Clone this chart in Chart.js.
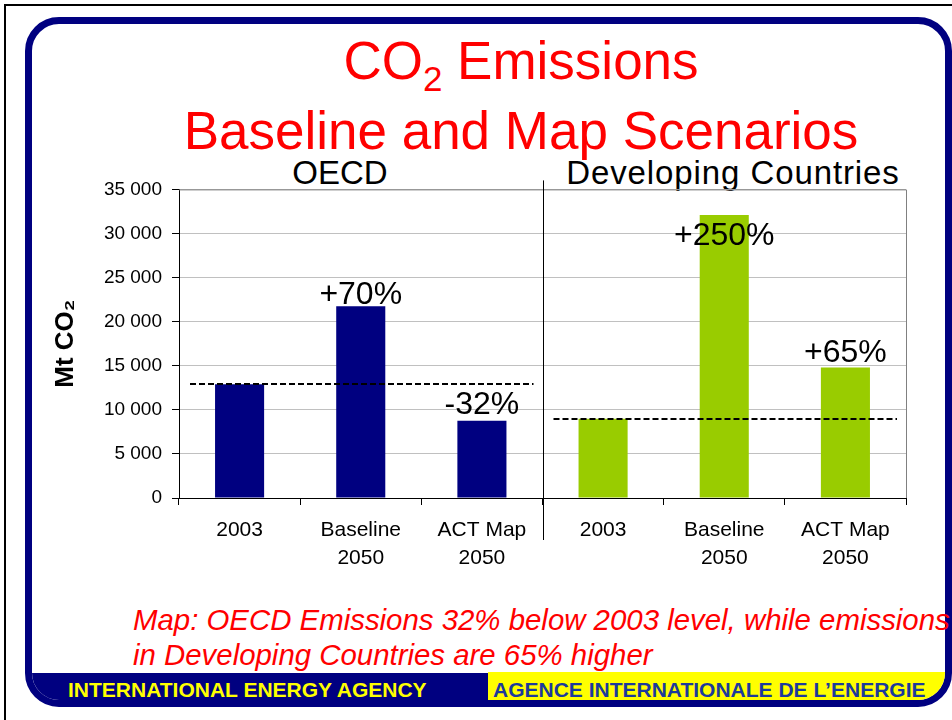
<!DOCTYPE html>
<html>
<head>
<meta charset="utf-8">
<script src="https://cdn.jsdelivr.net/npm/chart.js@4.4.0/dist/chart.umd.min.js"></script>
<style>
  body { margin: 0; width: 952px; height: 720px; overflow: hidden; background: #fff; position: relative;
         font-family: 'Liberation Sans', Arial, sans-serif; }
  #outer { position: absolute; left: 4px; top: 4px; width: 1000px; height: 800px; border: 2px solid #000; }
  #frame { position: absolute; left: 25px; top: 17px; width: 927px; height: 690px; box-sizing: border-box;
           border: 7px solid #000080; border-radius: 34px; overflow: hidden; background: #fff; }
  #bandL { position: absolute; left: 0; bottom: 0; width: 456px; height: 27px; background: #000080; }
  #bandR { position: absolute; left: 456px; right: 0; bottom: 0; height: 28px; background: #ffff00; }
  .txt { position: absolute; white-space: nowrap; line-height: 1; }
  #title { left: 0; width: 1042px; top: 29px; text-align: center; color: #ff0000; font-size: 53px; line-height: 64px; }
  #title .sub { font-size: 35px; position: relative; top: 12px; }
  .sec { font-size: 33px; color: #000; top: 156px; width: 600px; text-align: center; }
  .note { left: 133px; font-size: 29.4px; font-style: italic; color: #ff0000; }
  .foot { font-size: 21px; font-weight: bold; top: 679px; }
  #box { position: absolute; left: 40px; top: 168px; width: 880px; height: 412px; }
</style>
</head>
<body>
<div id="outer"></div>
<div id="frame"><div id="bandL"></div><div id="bandR"></div></div>
<div class="txt" id="title">CO<span class="sub">2</span> Emissions<br>Baseline and Map Scenarios</div>
<div class="txt sec" id="s1" style="left:40px"></div>
<div class="txt sec" id="s2" style="left:433px;letter-spacing:0.9px"></div>
<div id="box"><canvas id="chart"></canvas></div>
<div class="txt note" style="top:605px">Map: OECD Emissions 32% below 2003 level, while emissions</div>
<div class="txt note" style="top:640px">in Developing Countries are 65% higher</div>
<div class="txt foot" style="left:68px;color:#ffff00">INTERNATIONAL ENERGY AGENCY</div>
<div class="txt foot" style="left:493px;color:#1c3a9c">AGENCE INTERNATIONALE DE L’ENERGIE</div>
<script>
// data (Mt CO2)
const groups = ['OECD', 'Developing Countries'];
const scenarios = ['2003', ['Baseline', '2050'], ['ACT Map', '2050']];
const oecdValues = [12900, 21750, 8770];
const devValues = [9000, 32100, 14800];
const pctLabels = ['', '+70%', '-32%', '', '+250%', '+65%'];
const yTicks = [0, 5000, 10000, 15000, 20000, 25000, 30000, 35000];

const groupColors = ['#000080', '#99cc00'];
const FONT = "'Liberation Sans', Arial, sans-serif";

const labels = scenarios.concat(scenarios);
const values = oecdValues.concat(devValues);
const colors = values.map((v, i) => groupColors[i < 3 ? 0 : 1]);

document.getElementById('s1').textContent = groups[0];
document.getElementById('s2').textContent = groups[1];

// pixel lift of each % label above its bar top
const labelLift = [0, 2, 7, 0, -30, 6];

const extras = {
  id: 'extras',
  afterDatasetsDraw(chart) {
    const { ctx, chartArea: a, scales: { x, y } } = chart;
    const half = (x.getPixelForValue(1) - x.getPixelForValue(0)) / 2;
    ctx.save();
    // plot border top / right
    ctx.strokeStyle = '#808080';
    ctx.lineWidth = 1;
    ctx.beginPath();
    ctx.moveTo(a.left, a.top + 0.5); ctx.lineTo(a.right + 0.5, a.top + 0.5); ctx.lineTo(a.right + 0.5, a.bottom);
    ctx.stroke();
    // separator between the two groups
    const sx = Math.round((x.getPixelForValue(2) + x.getPixelForValue(3)) / 2) + 0.5;
    ctx.strokeStyle = '#000';
    ctx.beginPath(); ctx.moveTo(sx, a.top - 9); ctx.lineTo(sx, a.bottom + 42); ctx.stroke();
    // dashed 2003 reference lines
    ctx.lineWidth = 2;
    ctx.setLineDash([6, 3]);
    [oecdValues, devValues].forEach((vals, g) => {
      const yy = Math.round(y.getPixelForValue(vals[0]));
      const x0 = x.getPixelForValue(g * 3) - half + 11;
      const x1 = x.getPixelForValue(g * 3 + 2) + half - 9;
      ctx.beginPath(); ctx.moveTo(x0, yy); ctx.lineTo(x1, yy); ctx.stroke();
    });
    ctx.setLineDash([]);
    // % labels
    ctx.fillStyle = '#000';
    ctx.font = '32px ' + FONT;
    ctx.textAlign = 'center';
    ctx.textBaseline = 'alphabetic';
    const meta = chart.getDatasetMeta(0);
    pctLabels.forEach((t, i) => {
      if (!t) return;
      const bar = meta.data[i];
      ctx.fillText(t, bar.x, bar.y - labelLift[i]);
    });
    ctx.restore();
  }
};

new Chart(document.getElementById('chart'), {
  type: 'bar',
  data: {
    labels: labels,
    datasets: [{ data: values, backgroundColor: colors, categoryPercentage: 1, barPercentage: 0.405 }]
  },
  options: {
    responsive: true,
    maintainAspectRatio: false,
    animation: false,
    layout: { padding: { left: 0, right: 14, top: 0, bottom: 0 } },
    plugins: { legend: { display: false }, tooltip: { enabled: false } },
    scales: {
      x: {
        afterFit(s) { s.height = 82; },
        grid: { offset: true, drawOnChartArea: false, tickLength: 7, tickColor: '#000' },
        border: { color: '#000' },
        ticks: { color: '#000', font: { family: FONT, size: 21, lineHeight: 1.3 }, padding: 12, maxRotation: 0 }
      },
      y: {
        min: 0, max: 35000,
        afterFit(s) { s.width = 139; },
        afterBuildTicks(s) { s.ticks = yTicks.map(v => ({ value: v })); },
        grid: { color: '#c0c0c0', tickLength: 7, tickColor: '#000' },
        border: { color: '#000' },
        ticks: {
          color: '#000', padding: 10, font: { family: FONT, size: 19 },
          callback: v => String(v).replace(/\B(?=(\d{3})+(?!\d))/g, ' ')
        },
        title: { display: true, text: 'Mt CO₂', color: '#000', padding: { top: 10, bottom: 0 },
                 font: { family: FONT, size: 26, weight: 'bold' } }
      }
    }
  },
  plugins: [extras]
});
</script>
</body>
</html>
